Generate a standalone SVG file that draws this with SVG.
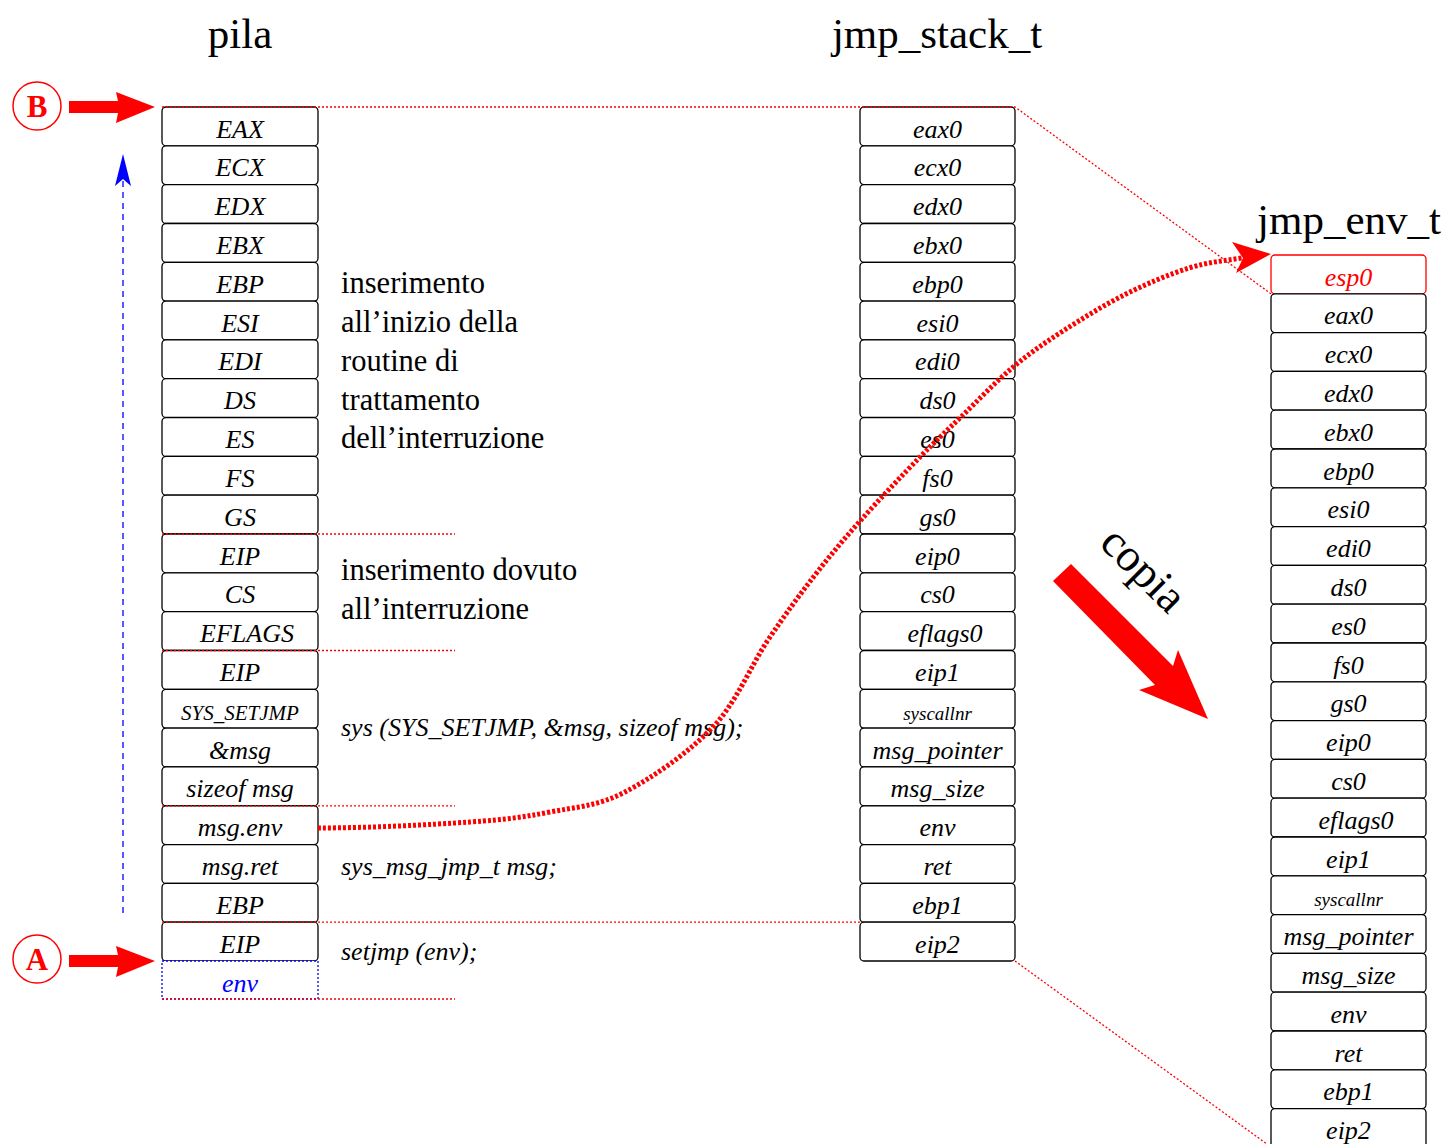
<svg xmlns="http://www.w3.org/2000/svg" width="1447" height="1144" viewBox="0 0 1447 1144">
<style>
.b{fill:#fff;stroke:#000;stroke-width:1.3}
.l{font-family:"Liberation Serif",serif;font-style:italic;font-size:26px;text-anchor:middle;fill:#000}
.s{font-size:21px}
.xs{font-size:19px}
.t{font-family:"Liberation Serif",serif;font-size:43px;text-anchor:middle;fill:#000}
.n{font-family:"Liberation Serif",serif;font-size:30.5px;fill:#000}
.c{font-family:"Liberation Serif",serif;font-style:italic;font-size:26px;fill:#000}
.rd{fill:none;stroke:#f00;stroke-width:1.3;stroke-dasharray:2 2}
</style>
<rect width="1447" height="1144" fill="#fff"/>
<text class="t" x="240" y="48">pila</text>
<text class="t" x="937" y="48">jmp_stack_t</text>
<text class="t" x="1349" y="234">jmp_env_t</text>

<g id="pila">
<g id="p0"><rect class="b" x="162" y="107" width="156" height="38.8" rx="4"/><text class="l" x="240" y="137.5">EAX</text></g>
<g id="p1"><rect class="b" x="162" y="145.8" width="156" height="38.8" rx="4"/><text class="l" x="240" y="176.3">ECX</text></g>
<g id="p2"><rect class="b" x="162" y="184.6" width="156" height="38.8" rx="4"/><text class="l" x="240" y="215.1">EDX</text></g>
<g id="p3"><rect class="b" x="162" y="223.5" width="156" height="38.8" rx="4"/><text class="l" x="240" y="254">EBX</text></g>
<g id="p4"><rect class="b" x="162" y="262.3" width="156" height="38.8" rx="4"/><text class="l" x="240" y="292.8">EBP</text></g>
<g id="p5"><rect class="b" x="162" y="301.1" width="156" height="38.8" rx="4"/><text class="l" x="240" y="331.6">ESI</text></g>
<g id="p6"><rect class="b" x="162" y="339.9" width="156" height="38.8" rx="4"/><text class="l" x="240" y="370.4">EDI</text></g>
<g id="p7"><rect class="b" x="162" y="378.7" width="156" height="38.8" rx="4"/><text class="l" x="240" y="409.2">DS</text></g>
<g id="p8"><rect class="b" x="162" y="417.6" width="156" height="38.8" rx="4"/><text class="l" x="240" y="448.1">ES</text></g>
<g id="p9"><rect class="b" x="162" y="456.4" width="156" height="38.8" rx="4"/><text class="l" x="240" y="486.9">FS</text></g>
<g id="p10"><rect class="b" x="162" y="495.2" width="156" height="38.8" rx="4"/><text class="l" x="240" y="525.7">GS</text></g>
<g id="p11"><rect class="b" x="162" y="534" width="156" height="38.8" rx="4"/><text class="l" x="240" y="564.5">EIP</text></g>
<g id="p12"><rect class="b" x="162" y="572.8" width="156" height="38.8" rx="4"/><text class="l" x="240" y="603.3">CS</text></g>
<g id="p13"><rect class="b" x="162" y="611.7" width="156" height="38.8" rx="4"/><text class="l" x="247" y="642.2">EFLAGS</text></g>
<g id="p14"><rect class="b" x="162" y="650.5" width="156" height="38.8" rx="4"/><text class="l" x="240" y="681">EIP</text></g>
<g id="p15"><rect class="b" x="162" y="689.3" width="156" height="38.8" rx="4"/><text class="l s" x="240" y="719.8">SYS_SETJMP</text></g>
<g id="p16"><rect class="b" x="162" y="728.1" width="156" height="38.8" rx="4"/><text class="l" x="240" y="758.6">&amp;msg</text></g>
<g id="p17"><rect class="b" x="162" y="766.9" width="156" height="38.8" rx="4"/><text class="l" x="240" y="797.4">sizeof msg</text></g>
<g id="p18"><rect class="b" x="162" y="805.8" width="156" height="38.8" rx="4"/><text class="l" x="240" y="836.3">msg.env</text></g>
<g id="p19"><rect class="b" x="162" y="844.6" width="156" height="38.8" rx="4"/><text class="l" x="240" y="875.1">msg.ret</text></g>
<g id="p20"><rect class="b" x="162" y="883.4" width="156" height="38.8" rx="4"/><text class="l" x="240" y="913.9">EBP</text></g>
<g id="p21"><rect class="b" x="162" y="922.2" width="156" height="38.8" rx="4"/><text class="l" x="240" y="952.7">EIP</text></g>
<g id="p22"><rect x="162" y="961" width="156" height="38" fill="#fff" stroke="#00f" stroke-width="1.3" stroke-dasharray="2 2"/><text class="l" x="240" y="991.5" style="fill:#00f">env</text></g>
</g>

<g id="stack">
<g id="m0"><rect class="b" x="860" y="107" width="155" height="38.8" rx="4"/><text class="l" x="937.5" y="137.5">eax0</text></g>
<g id="m1"><rect class="b" x="860" y="145.8" width="155" height="38.8" rx="4"/><text class="l" x="937.5" y="176.3">ecx0</text></g>
<g id="m2"><rect class="b" x="860" y="184.6" width="155" height="38.8" rx="4"/><text class="l" x="937.5" y="215.1">edx0</text></g>
<g id="m3"><rect class="b" x="860" y="223.5" width="155" height="38.8" rx="4"/><text class="l" x="937.5" y="254">ebx0</text></g>
<g id="m4"><rect class="b" x="860" y="262.3" width="155" height="38.8" rx="4"/><text class="l" x="937.5" y="292.8">ebp0</text></g>
<g id="m5"><rect class="b" x="860" y="301.1" width="155" height="38.8" rx="4"/><text class="l" x="937.5" y="331.6">esi0</text></g>
<g id="m6"><rect class="b" x="860" y="339.9" width="155" height="38.8" rx="4"/><text class="l" x="937.5" y="370.4">edi0</text></g>
<g id="m7"><rect class="b" x="860" y="378.7" width="155" height="38.8" rx="4"/><text class="l" x="937.5" y="409.2">ds0</text></g>
<g id="m8"><rect class="b" x="860" y="417.6" width="155" height="38.8" rx="4"/><text class="l" x="937.5" y="448.1">es0</text></g>
<g id="m9"><rect class="b" x="860" y="456.4" width="155" height="38.8" rx="4"/><text class="l" x="937.5" y="486.9">fs0</text></g>
<g id="m10"><rect class="b" x="860" y="495.2" width="155" height="38.8" rx="4"/><text class="l" x="937.5" y="525.7">gs0</text></g>
<g id="m11"><rect class="b" x="860" y="534" width="155" height="38.8" rx="4"/><text class="l" x="937.5" y="564.5">eip0</text></g>
<g id="m12"><rect class="b" x="860" y="572.8" width="155" height="38.8" rx="4"/><text class="l" x="937.5" y="603.3">cs0</text></g>
<g id="m13"><rect class="b" x="860" y="611.7" width="155" height="38.8" rx="4"/><text class="l" x="945" y="642.2">eflags0</text></g>
<g id="m14"><rect class="b" x="860" y="650.5" width="155" height="38.8" rx="4"/><text class="l" x="937.5" y="681">eip1</text></g>
<g id="m15"><rect class="b" x="860" y="689.3" width="155" height="38.8" rx="4"/><text class="l xs" x="937.5" y="719.8">syscallnr</text></g>
<g id="m16"><rect class="b" x="860" y="728.1" width="155" height="38.8" rx="4"/><text class="l" x="937.5" y="758.6">msg_pointer</text></g>
<g id="m17"><rect class="b" x="860" y="766.9" width="155" height="38.8" rx="4"/><text class="l" x="937.5" y="797.4">msg_size</text></g>
<g id="m18"><rect class="b" x="860" y="805.8" width="155" height="38.8" rx="4"/><text class="l" x="937.5" y="836.3">env</text></g>
<g id="m19"><rect class="b" x="860" y="844.6" width="155" height="38.8" rx="4"/><text class="l" x="937.5" y="875.1">ret</text></g>
<g id="m20"><rect class="b" x="860" y="883.4" width="155" height="38.8" rx="4"/><text class="l" x="937.5" y="913.9">ebp1</text></g>
<g id="m21"><rect class="b" x="860" y="922.2" width="155" height="38.8" rx="4"/><text class="l" x="937.5" y="952.7">eip2</text></g>
</g>

<g id="env">
<g id="r0"><rect x="1271" y="255" width="155" height="38.8" rx="4" fill="#fff" stroke="#f00" stroke-width="1.3"/><text class="l" x="1348.5" y="285.5" style="fill:#f00">esp0</text></g>
<g id="r1"><rect class="b" x="1271" y="293.8" width="155" height="38.8" rx="4"/><text class="l" x="1348.5" y="324.3">eax0</text></g>
<g id="r2"><rect class="b" x="1271" y="332.6" width="155" height="38.8" rx="4"/><text class="l" x="1348.5" y="363.1">ecx0</text></g>
<g id="r3"><rect class="b" x="1271" y="371.4" width="155" height="38.8" rx="4"/><text class="l" x="1348.5" y="401.9">edx0</text></g>
<g id="r4"><rect class="b" x="1271" y="410.2" width="155" height="38.8" rx="4"/><text class="l" x="1348.5" y="440.7">ebx0</text></g>
<g id="r5"><rect class="b" x="1271" y="449" width="155" height="38.8" rx="4"/><text class="l" x="1348.5" y="479.5">ebp0</text></g>
<g id="r6"><rect class="b" x="1271" y="487.8" width="155" height="38.8" rx="4"/><text class="l" x="1348.5" y="518.3">esi0</text></g>
<g id="r7"><rect class="b" x="1271" y="526.6" width="155" height="38.8" rx="4"/><text class="l" x="1348.5" y="557.1">edi0</text></g>
<g id="r8"><rect class="b" x="1271" y="565.4" width="155" height="38.8" rx="4"/><text class="l" x="1348.5" y="595.9">ds0</text></g>
<g id="r9"><rect class="b" x="1271" y="604.2" width="155" height="38.8" rx="4"/><text class="l" x="1348.5" y="634.7">es0</text></g>
<g id="r10"><rect class="b" x="1271" y="643" width="155" height="38.8" rx="4"/><text class="l" x="1348.5" y="673.5">fs0</text></g>
<g id="r11"><rect class="b" x="1271" y="681.8" width="155" height="38.8" rx="4"/><text class="l" x="1348.5" y="712.3">gs0</text></g>
<g id="r12"><rect class="b" x="1271" y="720.6" width="155" height="38.8" rx="4"/><text class="l" x="1348.5" y="751.1">eip0</text></g>
<g id="r13"><rect class="b" x="1271" y="759.4" width="155" height="38.8" rx="4"/><text class="l" x="1348.5" y="789.9">cs0</text></g>
<g id="r14"><rect class="b" x="1271" y="798.2" width="155" height="38.8" rx="4"/><text class="l" x="1356" y="828.7">eflags0</text></g>
<g id="r15"><rect class="b" x="1271" y="837" width="155" height="38.8" rx="4"/><text class="l" x="1348.5" y="867.5">eip1</text></g>
<g id="r16"><rect class="b" x="1271" y="875.8" width="155" height="38.8" rx="4"/><text class="l xs" x="1348.5" y="906.3">syscallnr</text></g>
<g id="r17"><rect class="b" x="1271" y="914.6" width="155" height="38.8" rx="4"/><text class="l" x="1348.5" y="945.1">msg_pointer</text></g>
<g id="r18"><rect class="b" x="1271" y="953.4" width="155" height="38.8" rx="4"/><text class="l" x="1348.5" y="983.9">msg_size</text></g>
<g id="r19"><rect class="b" x="1271" y="992.2" width="155" height="38.8" rx="4"/><text class="l" x="1348.5" y="1022.7">env</text></g>
<g id="r20"><rect class="b" x="1271" y="1031" width="155" height="38.8" rx="4"/><text class="l" x="1348.5" y="1061.5">ret</text></g>
<g id="r21"><rect class="b" x="1271" y="1069.8" width="155" height="38.8" rx="4"/><text class="l" x="1348.5" y="1100.3">ebp1</text></g>
<g id="r22"><rect class="b" x="1271" y="1108.6" width="155" height="38.8" rx="4"/><text class="l" x="1348.5" y="1139.1">eip2</text></g>
</g>

<g id="notes">
<text class="n" x="341" y="293">inserimento</text>
<text class="n" x="341" y="332">all’inizio della</text>
<text class="n" x="341" y="371">routine di</text>
<text class="n" x="341" y="410">trattamento</text>
<text class="n" x="341" y="448">dell’interruzione</text>
<text class="n" x="341" y="580">inserimento dovuto</text>
<text class="n" x="341" y="619">all’interruzione</text>
<text class="c" x="341" y="736">sys (SYS_SETJMP, &amp;msg, sizeof msg);</text>
<text class="c" x="341" y="875">sys_msg_jmp_t msg;</text>
<text class="c" x="341" y="960">setjmp (env);</text>
</g>

<g id="connectors">
<path class="rd" d="M162,107 H1015 L1271,293.8"/>
<path class="rd" d="M162,922.2 H860"/>
<path class="rd" d="M1015,961 L1271,1147"/>
<path class="rd" d="M162,534 H455 M162,650.5 H455 M162,805.8 H455 M162,999 H455"/>
<path d="M123,913 V180" fill="none" stroke="#00f" stroke-width="1.3" stroke-dasharray="6 5"/>
<polygon points="123,154 131,186 123,179 115,186" fill="#00f"/>
<path d="M318,828 C368,828 431.3,824.7 470,822 C508.7,819.3 524.2,817 550,812 C575.8,807 597.8,806.2 625,792 C652.2,777.8 689.2,752.3 713,727 C736.8,701.7 751,665.3 768,640 C785,614.7 799.5,595 815,575 C830.5,555 843.5,539.7 861,520 C878.5,500.3 903.2,474.3 920,457 C936.8,439.7 946.7,430.8 962,416 C977.3,401.2 995.2,382.2 1012,368 C1028.8,353.8 1044,343.3 1063,331 C1082,318.7 1105,304.5 1126,294 C1147,283.5 1170,274 1189,268 C1208,262 1223,261 1242,258" fill="none" stroke="#f00" stroke-width="5" stroke-dasharray="3 2"/>
<polygon points="1271,254 1236,273 1243,258 1232,242" fill="#f00"/>
</g>

<g id="B">
<circle cx="37" cy="106" r="24" fill="#fff" stroke="#f00" stroke-width="1.5"/>
<text x="37" y="117" font-family="Liberation Serif,serif" font-weight="bold" font-size="31" text-anchor="middle" fill="#f00">B</text>
<polygon points="69,101 118,101 116,92 155,107 116,123 118,113 69,113" fill="#f00"/>
</g>
<g id="A">
<circle cx="37" cy="959" r="24" fill="#fff" stroke="#f00" stroke-width="1.5"/>
<text x="37" y="970" font-family="Liberation Serif,serif" font-weight="bold" font-size="31" text-anchor="middle" fill="#f00">A</text>
<polygon points="69,955 118,955 116,946 155,961 116,977 118,967 69,967" fill="#f00"/>
</g>

<g id="copia">
<polygon points="1071,564 1173,666 1178,650 1208,719 1139,690 1155,685 1053,581" fill="#f00"/>
<text x="1143" y="584" font-family="Liberation Serif,serif" font-size="46" text-anchor="middle" fill="#000" transform="rotate(45 1143 570)">copia</text>
</g>
</svg>
